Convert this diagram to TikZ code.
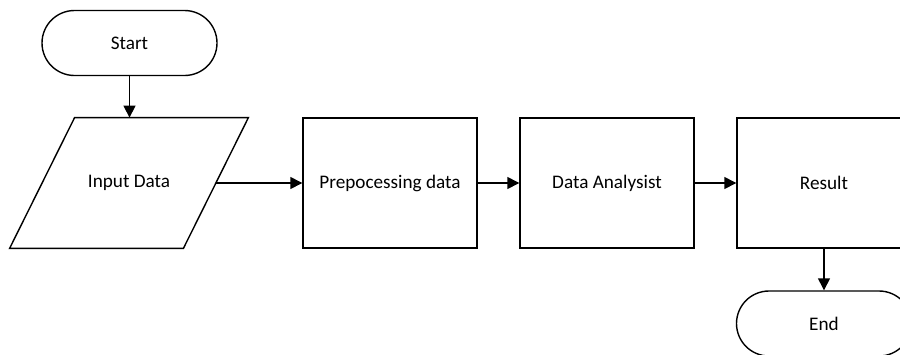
\documentclass[tikz,border=0pt]{standalone}
\usepackage{fontspec}
\setmainfont{Carlito}
\usetikzlibrary{arrows.meta}
\tikzset{
  term/.style={draw, line width=0.7pt, rounded corners=16.25pt, minimum width=87.5pt, minimum height=32.5pt, inner sep=0pt},
  proc/.style={draw, line width=0.7pt, minimum width=87pt, minimum height=65pt, inner sep=0pt},
  io/.style={minimum width=86.5pt, minimum height=65pt, inner sep=0pt},
  conn/.style={line width=0.7pt, -{Triangle[length=6pt,width=6pt]}},
}
\begin{document}
\begin{tikzpicture}[x=0.5pt, y=-0.5pt, font=\fontsize{9.6}{11.5}\selectfont]
\useasboundingbox (0,0) rectangle (900,354);
\clip (0,0) rectangle (900,354);
\node[term] (start) at (129.5,43) {Start};
\node[io] (in) at (129,183) {Input Data};
\draw[line width=0.7pt] ([xshift=16.25pt]in.north west) -- ([xshift=16.25pt]in.north east)
  -- ([xshift=-16.25pt]in.south east) -- ([xshift=-16.25pt]in.south west) -- cycle;
\node[proc] (pre) at (390,183) {Prepocessing data};
\node[proc] (ana) at (607,183) {Data Analysist};
\node[proc] (res) at (824,183) {Result};
\node[term] (end) at (824,323.5) {End};
\draw[conn] (start) -- (start |- in.north);
\draw[conn] (in.east) -- (pre.west);
\draw[conn] (pre) -- (ana);
\draw[conn] (ana) -- (res);
\draw[conn] (res) -- (end);
\end{tikzpicture}
\end{document}
